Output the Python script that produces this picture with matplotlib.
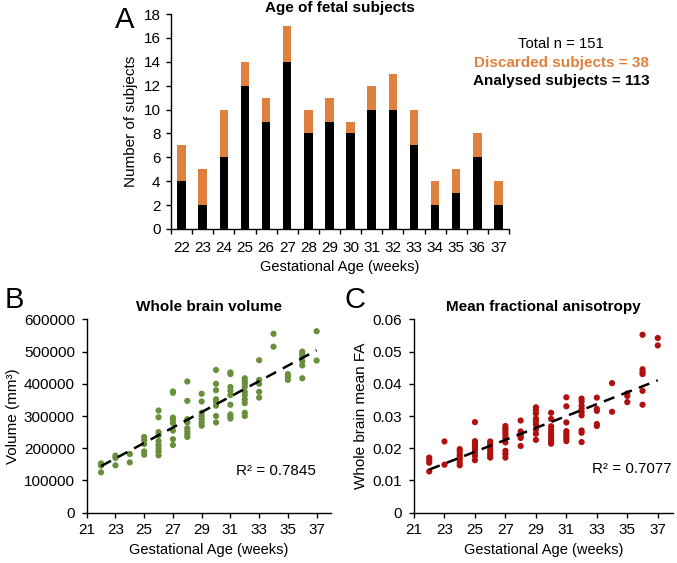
import numpy as np
import matplotlib
matplotlib.use("Agg")
import matplotlib.pyplot as plt

plt.rcParams['font.family'] = ['Liberation Sans', 'DejaVu Sans']

# ---------------- data ----------------
weeks = [22, 23, 24, 25, 26, 27, 28, 29, 30, 31, 32, 33, 34, 35, 36, 37]
analysed = [4, 2, 6, 12, 9, 14, 8, 9, 8, 10, 10, 7, 2, 3, 6, 2]
discarded = [3, 3, 4, 2, 2, 3, 2, 2, 1, 2, 3, 3, 2, 2, 2, 2]

volume = {
    22: [153000, 146000, 125000],
    23: [177000, 170000, 147000],
    24: [182000, 156000],
    25: [235000, 225000, 213000, 190000, 180000],
    26: [317000, 296000, 250000, 240000, 222000, 210000, 200000, 190000, 178000],
    27: [376000, 372000, 295000, 288000, 278000, 255000, 228000, 210000],
    28: [407000, 347000, 290000, 280000, 262000, 252000, 243000, 235000],
    29: [369000, 345000, 310000, 300000, 290000, 280000, 270000],
    30: [443000, 400000, 380000, 352000, 345000, 332000, 300000, 280000],
    31: [435000, 430000, 390000, 378000, 365000, 335000, 305000, 298000, 292000],
    32: [417000, 408000, 400000, 390000, 375000, 365000, 352000, 340000, 310000, 300000],
    33: [473000, 412000, 400000, 375000, 357000],
    34: [555000, 515000],
    35: [430000, 422000, 412000],
    36: [500000, 493000, 485000, 470000, 457000, 417000],
    37: [563000, 472000],
}

fa = {
    22: [0.0171, 0.0163, 0.0155, 0.0128],
    23: [0.0221, 0.0149],
    24: [0.0197, 0.019, 0.018, 0.0172, 0.0165, 0.0155, 0.0147],
    25: [0.0281, 0.0222, 0.0216, 0.021, 0.0203, 0.0196, 0.0187, 0.0176, 0.0163],
    26: [0.0221, 0.0213, 0.0205, 0.0195, 0.0185, 0.0178, 0.0171],
    27: [0.0269, 0.0262, 0.0255, 0.0247, 0.024, 0.0232, 0.0218, 0.0192, 0.0182, 0.0171],
    28: [0.0286, 0.0252, 0.0245, 0.0238, 0.0232, 0.0207],
    29: [0.0327, 0.0318, 0.0308, 0.0292, 0.0283, 0.0273, 0.0258, 0.0245, 0.0226],
    30: [0.031, 0.0291, 0.0268, 0.0258, 0.0249, 0.024, 0.0231, 0.0222, 0.0214],
    31: [0.0358, 0.033, 0.028, 0.0253, 0.0246, 0.0238, 0.023, 0.0222],
    32: [0.0354, 0.0345, 0.0332, 0.0322, 0.0312, 0.0302, 0.0255, 0.0248, 0.0219],
    33: [0.0357, 0.0322, 0.0316, 0.0275, 0.0269],
    34: [0.0402, 0.0313],
    35: [0.037, 0.0362, 0.0343],
    36: [0.0552, 0.0445, 0.0437, 0.043, 0.0378, 0.0335],
    37: [0.0542, 0.0519],
}

r2_volume = "R² = 0.7845"
r2_fa = "R² = 0.7077"

ORANGE = '#DE813E'
GREEN = '#6A8F3C'
RED = '#B0100F'

fig = plt.figure(figsize=(6.77, 5.63), dpi=100)
W, H = 677, 563


def axes_px(l, t, r, b):
    return fig.add_axes([l / W, 1 - b / H, (r - l) / W, (b - t) / H])


def style(ax):
    for s in ['top', 'right']:
        ax.spines[s].set_visible(False)
    for s in ['left', 'bottom']:
        ax.spines[s].set_linewidth(1.0)
        ax.spines[s].set_color('black')
    ax.tick_params(axis='both', direction='out', length=3.5, width=1.0,
                   labelsize=11, colors='black')
    ax.tick_params(axis='y', pad=5)
    ax.tick_params(axis='x', pad=4)


# ---------------- Panel A ----------------
axA = axes_px(171, 14, 509, 229)
x = np.arange(len(weeks))
axA.bar(x, analysed, width=0.4, color='black', zorder=2)
axA.bar(x, discarded, width=0.4, bottom=analysed, color=ORANGE, zorder=2)
axA.set_xlim(-0.5, len(weeks) - 0.5)
axA.set_ylim(0, 18)
axA.set_yticks(np.arange(0, 19, 2))
style(axA)
axA.tick_params(axis='y', pad=4)
axA.set_xticks(np.arange(-0.5, len(weeks), 1.0))
axA.set_xticklabels([])
axA.set_xticks(x, minor=True)
axA.set_xticklabels([str(w) for w in weeks], minor=True)
axA.tick_params(axis='x', which='minor', length=0, labelsize=11, pad=9)
axA.set_xlabel('Gestational Age (weeks)', fontsize=10.5, labelpad=3)
axA.set_ylabel('Number of subjects', fontsize=11, labelpad=4)
axA.text(0.5, 1.03, 'Age of fetal subjects', transform=axA.transAxes,
         ha='center', va='center', fontsize=11, fontweight='bold')
fig.text(125 / W, 1 - 20 / H, 'A', fontsize=21, ha='center', va='center')

fig.text(561 / W, 1 - 44 / H, 'Total n = 151', fontsize=10.75, ha='center', va='center')
fig.text(561 / W, 1 - 63 / H, 'Discarded subjects = 38', fontsize=11,
         ha='center', va='center', color=ORANGE, fontweight='bold')
fig.text(561 / W, 1 - 81 / H, 'Analysed subjects = 113', fontsize=11,
         ha='center', va='center', color='black', fontweight='bold')


# ---------------- scatter panels ----------------
def scatter_panel(ax, data, color, yticks, ylabel, r2, r2pos, title, ytickfmt):
    xs = np.concatenate([[k] * len(v) for k, v in data.items()])
    ys = np.concatenate([v for v in data.values()])
    ax.scatter(xs, ys, s=20, color=color, edgecolors='none', zorder=2)
    coef = np.polyfit(xs, ys, 1)
    xl = np.array([min(xs), max(xs)])
    ax.plot(xl, np.polyval(coef, xl), color='black', lw=1.8,
            dashes=(4.5, 3), zorder=3)
    ax.set_xlim(21, 38)
    ax.set_xticks(np.arange(21, 38, 2))
    ax.set_ylim(yticks[0], yticks[-1])
    ax.set_yticks(yticks)
    ax.set_yticklabels([ytickfmt(v) for v in yticks])
    style(ax)
    ax.set_xlabel('Gestational Age (weeks)', fontsize=10.5, labelpad=4)
    ax.set_ylabel(ylabel, fontsize=11, labelpad=3)
    ax.text(r2pos[0], r2pos[1], r2, transform=ax.transData, fontsize=11,
            ha='center', va='center')
    ax.text(0.5, 1.0 + 12.6 / 193.4, title, transform=ax.transAxes,
            ha='center', va='center', fontsize=11, fontweight='bold')


axB = axes_px(86.7, 319.3, 331, 512.7)
scatter_panel(axB, volume, GREEN, list(range(0, 600001, 100000)), 'Volume (mm³)',
              r2_volume, (34.2, 128000), 'Whole brain volume', lambda v: f'{int(v)}')
fig.text(14 / W, 1 - 300 / H, 'B', fontsize=21, ha='center', va='center')

axC = axes_px(414, 319.3, 673, 512.7)
scatter_panel(axC, fa, RED, [0, 0.01, 0.02, 0.03, 0.04, 0.05, 0.06],
              'Whole brain mean FA', r2_fa, (35.3, 0.0136), 'Mean fractional anisotropy',
              lambda v: '0' if v == 0 else f'{v:.2f}')
fig.text(355 / W, 1 - 300 / H, 'C', fontsize=21, ha='center', va='center')

fig.savefig('out.png', dpi=100)
